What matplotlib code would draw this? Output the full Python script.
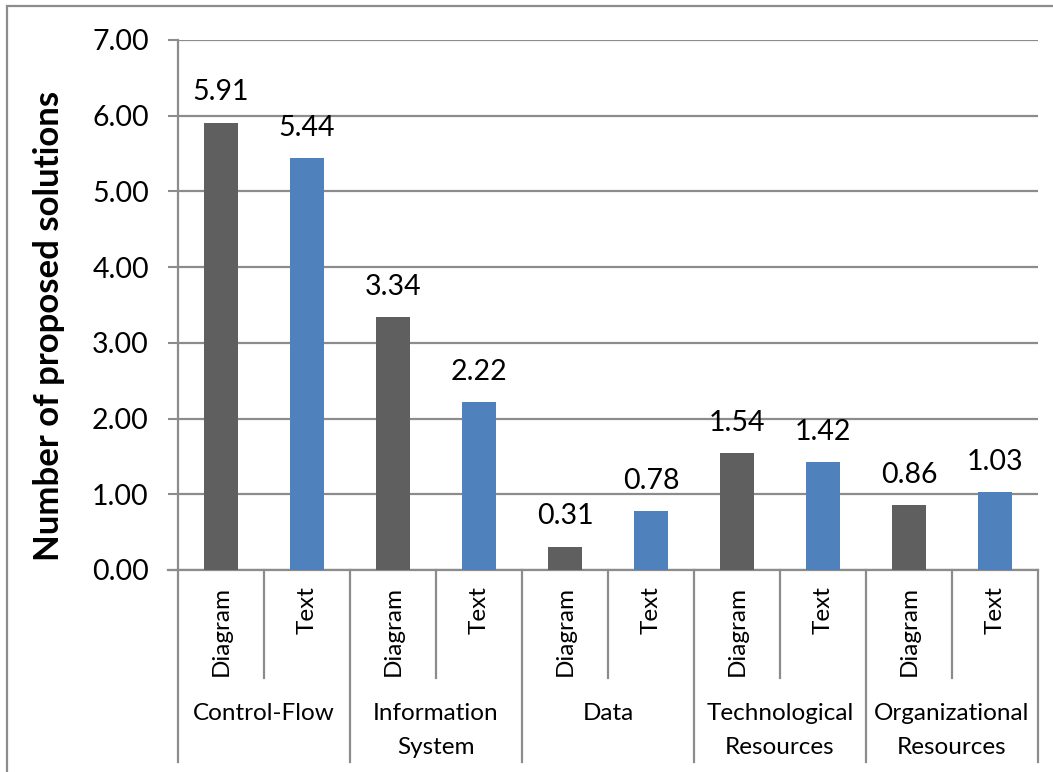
import matplotlib
matplotlib.use("Agg")
import matplotlib.pyplot as plt
from matplotlib.patches import Rectangle
import numpy as np

groups = ["Control-Flow", "Information\nSystem", "Data", "Technological\nResources", "Organizational\nResources"]
formats = ["Diagram", "Text"]
diagram = [5.91, 3.34, 0.31, 1.54, 0.86]
text = [5.44, 2.22, 0.78, 1.42, 1.03]

GREY = "#5f5f5f"
BLUE = "#4f81bd"
LINE = "#8c8c8c"

plt.rcParams["font.family"] = ["Lato", "DejaVu Sans"]

W, H = 1053, 772
fig = plt.figure(figsize=(W / 100, H / 100), dpi=100)
ax = fig.add_axes([178 / W, (H - 570) / H, (1038 - 178) / W, 530 / H])

# interleave the two series: one slot per (group, format)
values = []
colors = []
for d, t in zip(diagram, text):
    values += [d, t]
    colors += [GREY, BLUE]
x = np.arange(len(values)) + 0.5
bars = ax.bar(x, values, width=0.4, color=colors, zorder=3)
for xi, v in zip(x, values):
    ax.annotate(f"{v:.2f}", (xi, v), xytext=(0, 16), textcoords="offset points",
                ha="center", va="baseline", fontsize=20.5)

ax.set_xlim(0, len(values))
ax.set_ylim(0, 7)
ax.set_yticks(np.arange(0, 8, 1))
ax.set_yticklabels([f"{t:.2f}" for t in np.arange(0, 8, 1)], fontsize=20.5)
ax.tick_params(axis="y", length=7, width=1.5, color=LINE, pad=14)
ax.set_xticks([])
ax.grid(axis="y", color=LINE, linewidth=1.6, zorder=0)
for side in ["top", "right", "bottom"]:
    ax.spines[side].set_visible(False)
ax.spines["left"].set_color(LINE)
ax.spines["left"].set_linewidth(1.6)
ax.set_ylabel("Number of proposed solutions", fontsize=25, fontweight="bold")
ax.yaxis.set_label_coords(-0.131, 0.46)

# two-level category axis drawn below the plot area
trans = ax.get_xaxis_transform()
ax.plot([-0.116, len(values)], [0, 0], color=LINE, lw=1.6, transform=trans, clip_on=False)
sub_bottom = (570 - 678) / 530
grp_bottom = (570 - 762) / 530
for i in range(len(values) + 1):
    yb = grp_bottom if i % 2 == 0 else sub_bottom
    ax.plot([i, i], [0, yb], color=LINE, lw=1.6, transform=trans, clip_on=False)
for xi, i in zip(x, range(len(values))):
    ax.text(xi, (570 - 586) / 530, formats[i % 2], rotation=90, ha="center", va="top",
            fontsize=17.5, transform=trans)
for g, name in enumerate(groups):
    ax.text(2 * g + 1, (570 - 703) / 530, name, ha="center", va="top", fontsize=17.5,
            linespacing=1.75, transform=trans)

# chart border
fig.add_artist(Rectangle((7 / W, -0.1), 1.2, (H - 6) / H + 0.1, transform=fig.transFigure,
                         fill=False, edgecolor=LINE, linewidth=1.6))

fig.savefig("out.png", dpi=100)
